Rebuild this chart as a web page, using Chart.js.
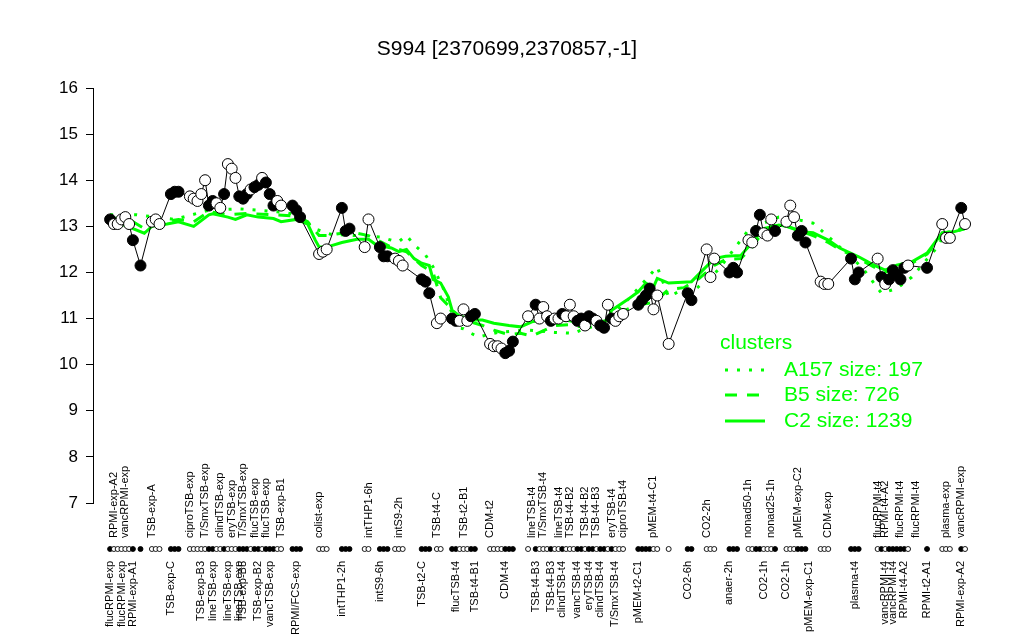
<!DOCTYPE html>
<html>
<head>
<meta charset="utf-8">
<title>S994</title>
<script src="https://cdn.jsdelivr.net/npm/chart.js@4/dist/chart.umd.min.js"></script>
<style>
  body { margin: 0; background: #fff; }
  #wrap { width: 1024px; height: 640px; }
</style>
</head>
<body>
<div id="wrap"><canvas id="myChart" width="1024" height="640"></canvas></div>
<script>
'use strict';
// Globals
var titleText = 'S994 [2370699,2370857,-1]';
var fontFamily = '"Liberation Sans", Arial, Helvetica, sans-serif';
var green = '#00ff00';

// sample slots along the x axis, expression value, filled (1) / open (0)
var slots = [0, 1, 2, 3, 4, 5, 6, 8, 11, 12, 13, 16, 17, 18, 21, 22, 23, 24, 25, 26,
  27, 28, 29, 30, 31, 32, 33, 34, 35, 36, 37, 38, 39, 40, 41, 42, 43, 44, 45, 48,
  49, 50, 55, 56, 57, 61, 62, 63, 67, 68, 71, 72, 73, 75, 76, 77, 82, 83, 84, 86,
  87, 90, 91, 92, 93, 94, 95, 96, 100, 101, 102, 103, 104, 105, 106, 110, 112, 113, 114, 115,
  116, 117, 118, 119, 120, 121, 122, 123, 124, 125, 126, 127, 128, 129, 130, 131, 132, 133, 134, 135,
  139, 140, 141, 142, 143, 144, 147, 152, 153, 157, 158, 159, 163, 164, 165, 168, 169, 170, 171, 172,
  173, 174, 175, 178, 179, 180, 181, 182, 183, 187, 188, 189, 195, 196, 197, 202, 203, 204, 205, 206,
  207, 208, 209, 210, 215, 219, 220, 221, 224, 225];
var expr = [13.15, 13.05, 13.05, 13.15, 13.2, 13.05, 12.7, 12.15, 13.1, 13.15, 13.05, 13.7, 13.75, 13.75, 13.65, 13.6, 13.55, 13.7, 14.0, 13.45,
  13.55, 13.5, 13.4, 13.7, 14.35, 14.25, 14.05, 13.65, 13.6, 13.7, 13.8, 13.85, 13.9, 14.05, 13.95, 13.7, 13.45, 13.55, 13.45, 13.45,
  13.35, 13.2, 12.4, 12.45, 12.5, 13.4, 12.9, 12.95, 12.55, 13.15, 12.55, 12.35, 12.35, 12.3, 12.25, 12.15, 11.85, 11.8, 11.55, 10.9,
  11.0, 11.0, 10.95, 10.95, 11.2, 10.95, 11.05, 11.1, 10.45, 10.4, 10.4, 10.35, 10.25, 10.3, 10.5, 11.05, 11.3, 11.0, 11.25, 11.05,
  10.95, 11.0, 11.0, 11.1, 11.05, 11.3, 11.05, 10.95, 11.0, 10.85, 11.05, 11.0, 10.95, 10.85, 10.8, 11.3, 11.0, 10.95, 11.05, 11.1,
  11.3, 11.4, 11.5, 11.65, 11.2, 11.5, 10.45, 11.55, 11.4, 12.5, 11.9, 12.3, 12.0, 12.1, 12.0, 12.7, 12.65, 12.9, 13.25, 12.85,
  12.8, 13.15, 12.9, 13.1, 13.45, 13.2, 12.8, 12.9, 12.65, 11.8, 11.75, 11.75, 12.3, 11.85, 12.0, 12.3, 11.9, 11.75, 11.85, 12.05,
  11.95, 11.85, 12.1, 12.15, 12.1, 13.05, 12.75, 12.75, 13.4, 13.05];
var filled = [1, 0, 0, 0, 0, 0, 1, 1, 0, 0, 0, 1, 1, 1, 0, 0, 0, 0, 0, 1,
  1, 0, 0, 1, 0, 0, 0, 1, 1, 1, 0, 1, 1, 0, 1, 1, 1, 0, 0, 1,
  1, 1, 0, 0, 0, 1, 1, 1, 0, 0, 1, 1, 1, 0, 0, 0, 1, 1, 1, 0,
  0, 1, 1, 0, 0, 0, 1, 1, 0, 0, 0, 0, 1, 1, 1, 0, 1, 0, 0, 0,
  1, 0, 0, 1, 0, 0, 0, 1, 1, 0, 1, 1, 0, 1, 1, 0, 1, 0, 0, 0,
  1, 1, 1, 1, 0, 0, 0, 1, 1, 0, 0, 0, 1, 1, 1, 0, 0, 1, 1, 0,
  0, 0, 1, 0, 0, 0, 1, 1, 1, 0, 0, 0, 1, 1, 1, 0, 1, 0, 1, 1,
  1, 1, 1, 0, 1, 0, 0, 0, 1, 0];

// axis labels, upper row and lower row
var topLabels = ['RPMI-exp-A2', 'vancRPMI-exp', 'TSB-exp-A', 'ciproTSB-exp', 'T/SmxTSB-exp', 'clindTSB-exp', 'eryTSB-exp',
  'T/SmxTSB-exp', 'flucTSB-exp', 'flucTSB-exp', 'TSB-exp-B1', 'colist-exp', 'intTHP1-6h', 'intS9-2h', 'TSB-t4-C',
  'TSB-t2-B1', 'CDM-t2', 'lineTSB-t4', 'T/SmxTSB-t4', 'lineTSB-t4', 'TSB-t4-B2', 'TSB-t4-B2', 'TSB-t4-B3', 'eryTSB-t4',
  'ciproTSB-t4', 'pMEM-t4-C1', 'CO2-2h', 'nonad50-1h', 'nonad25-1h', 'pMEM-exp-C2', 'CDM-exp', 'flucRPMI-t4',
  'RPMI-t4-A2', 'flucRPMI-t4', 'flucRPMI-t4', 'plasma-exp', 'vancRPMI-exp'];
var topLabelSlots = [1, 4, 11, 21, 25, 29, 32, 35, 38, 41, 45, 55, 68, 76, 86, 93, 100, 111, 114, 118, 121, 125, 128, 132,
  135, 143, 157, 168, 174, 181, 189, 202, 204, 208, 212, 220, 224];
var bottomLabels = ['flucRPMI-exp', 'flucRPMI-exp', 'RPMI-exp-A1', 'TSB-exp-C', 'TSB-exp-B3', 'lineTSB-exp', 'lineTSB-exp',
  'lineTSB-exp', 'TSB-exp-B5', 'TSB-exp-B2', 'vancTSB-exp', 'RPMI/FCS-exp', 'intTHP1-2h', 'intS9-6h', 'TSB-t2-C',
  'flucTSB-t4', 'TSB-t4-B1', 'CDM-t4', 'TSB-t4-B3', 'TSB-t4-B3', 'clindTSB-t4', 'vancTSB-t4', 'eryTSB-t4', 'clindTSB-t4',
  'T/SmxTSB-t4', 'pMEM-t2-C1', 'CO2-6h', 'anaer-2h', 'CO2-1h', 'CO2-1h', 'pMEM-exp-C1', 'plasma-t4', 'vancRPMI-t4',
  'vancRPMI-t4', 'RPMI-t4-A2', 'RPMI-t2-A1', 'RPMI-exp-A2'];
var bottomLabelSlots = [0, 3, 6, 16, 24, 27, 31, 34, 35, 39, 42, 49, 61, 71, 82, 91, 96, 104, 112, 116, 119, 123, 126, 129,
  133, 139, 152, 163, 172, 178, 184, 196, 204, 206, 209, 215, 224];

// cluster profiles
var clusterNames = ['A157 size: 197', 'B5 size: 726', 'C2 size: 1239'];
var a157Slots = [0, 7, 17, 26, 34, 39, 46, 51, 53, 58, 71, 74, 76, 78, 80, 83, 85, 88, 90, 91, 93, 95, 97, 102, 110, 117,
  122, 124, 130, 137, 144, 145, 147, 150, 154, 160, 168, 172, 176, 178, 185, 191, 198, 203, 207, 211, 217, 220, 224];
var a157Values = [13.25, 13.25, 13.15, 13.35, 13.38, 13.35, 13.3, 13.22, 12.97, 12.83, 12.77, 12.7, 12.67, 12.8, 12.6, 12.38,
  12.12, 11.6, 11.1, 10.8, 10.78, 10.68, 10.6, 10.7, 10.75, 10.7, 10.68, 10.75, 10.9, 11.47, 12.12, 11.9, 11.47, 11.6,
  11.63, 12.05, 12.92, 13.07, 13.2, 13.2, 13.07, 12.63, 12.1, 11.55, 11.65, 11.9, 12.48, 12.86, 12.95];
var b5Slots = [0, 6, 9, 11, 18, 22, 26, 31, 36, 43, 49, 52, 55, 57, 61, 65, 68, 74, 78, 82, 85, 87, 90, 92, 98, 101, 105,
  108, 111, 117, 121, 124, 129, 132, 136, 139, 143, 147, 151, 155, 159, 162, 166, 169, 172, 176, 180, 185, 189, 192,
  197, 201, 204, 207, 211, 215, 219, 222, 225];
var b5Values = [13.2, 13.1, 12.95, 13.05, 13.15, 13.1, 13.32, 13.25, 13.28, 13.25, 13.22, 13.1, 12.8, 12.8, 12.85, 12.85, 12.8,
  12.55, 12.45, 12.15, 12.0, 11.45, 11.2, 11.0, 10.85, 10.75, 10.65, 10.68, 10.62, 10.85, 10.87, 10.82, 10.85, 11.05,
  11.2, 11.3, 11.35, 11.63, 11.67, 11.87, 12.15, 12.28, 12.3, 12.55, 12.9, 13.07, 12.95, 12.8, 12.65, 12.5, 12.3, 12.12,
  12.0, 12.1, 12.2, 12.4, 12.8, 12.88, 12.95];
var c2Slots = [0, 6, 9, 11, 15, 18, 22, 26, 27, 31, 33, 36, 39, 43, 45, 49, 52, 54, 55, 57, 61, 65, 68, 70, 74, 76, 78, 80,
  82, 84, 85, 87, 89, 90, 92, 96, 98, 101, 105, 108, 111, 117, 121, 124, 129, 131, 132, 136, 139, 141, 143, 144, 147,
  153, 156, 159, 162, 166, 169, 172, 176, 178, 182, 185, 189, 192, 197, 201, 204, 207, 211, 215, 219, 222, 225];
var c2Values = [13.15, 12.95, 12.85, 13.0, 13.05, 13.1, 13.0, 13.25, 13.27, 13.2, 13.15, 13.25, 13.2, 13.17, 13.1, 13.15,
  13.05, 12.7, 12.55, 12.55, 12.65, 12.72, 12.72, 12.6, 12.53, 12.45, 12.5, 12.3, 12.2, 12.15, 11.85, 11.77, 11.47, 11.18,
  11.05, 10.97, 10.97, 10.9, 10.85, 10.82, 10.93, 11.0, 10.95, 10.9, 10.92, 10.97, 11.18, 11.4, 11.58, 11.77, 11.68, 11.87,
  11.77, 11.8, 12.05, 12.3, 12.35, 12.37, 12.65, 12.95, 13.03, 13.0, 12.88, 12.86, 12.7, 12.53, 12.34, 12.16, 12.05, 12.16,
  12.23, 12.42, 12.86, 12.88, 12.95];

var toPoints = function (xs, ys) {
  var pts = [];
  for (var i = 0; i < xs.length; i++) {
    pts.push({ x: xs[i], y: ys[i] });
  }
  return pts;
};

var pointFill = filled.map(function (f) { return f ? '#000000' : '#ffffff'; });

// title, sample strip, labels and legend
var decorPlugin = {
  id: 'decor',
  afterDraw: function (chart) {
    var ctx = chart.ctx;
    var xs = chart.scales.x;
    ctx.save();
    ctx.fillStyle = '#000';
    ctx.font = '21px ' + fontFamily;
    ctx.textAlign = 'center';
    ctx.textBaseline = 'alphabetic';
    ctx.fillText(titleText, 507, 55);

    // strip of samples
    var stripY = 549;
    ctx.lineWidth = 0.9;
    for (var i = 0; i < slots.length; i++) {
      var px = xs.getPixelForValue(slots[i]);
      ctx.beginPath();
      ctx.arc(px, stripY, 2.5, 0, Math.PI * 2);
      ctx.fillStyle = filled[i] ? '#000' : '#fff';
      ctx.fill();
      ctx.strokeStyle = '#000';
      ctx.stroke();
    }

    ctx.fillStyle = '#000';
    ctx.font = '11px ' + fontFamily;
    ctx.textBaseline = 'middle';
    for (var t = 0; t < topLabels.length; t++) {
      ctx.save();
      ctx.translate(xs.getPixelForValue(topLabelSlots[t]), 538);
      ctx.rotate(-Math.PI / 2);
      ctx.textAlign = 'left';
      ctx.fillText(topLabels[t], 0, 0);
      ctx.restore();
    }
    for (var b = 0; b < bottomLabels.length; b++) {
      ctx.save();
      ctx.translate(xs.getPixelForValue(bottomLabelSlots[b]), 561);
      ctx.rotate(-Math.PI / 2);
      ctx.textAlign = 'right';
      ctx.fillText(bottomLabels[b], 0, 0);
      ctx.restore();
    }

    // legend
    ctx.fillStyle = green;
    ctx.strokeStyle = green;
    ctx.font = '21px ' + fontFamily;
    ctx.textAlign = 'left';
    ctx.textBaseline = 'middle';
    ctx.fillText('clusters', 720, 343);
    var dashes = [[3, 9], [12, 10], []];
    var rows = [370, 395, 421];
    ctx.lineWidth = 3;
    for (var k = 0; k < clusterNames.length; k++) {
      ctx.setLineDash(dashes[k]);
      ctx.beginPath();
      ctx.moveTo(725, rows[k]);
      ctx.lineTo(765, rows[k]);
      ctx.stroke();
      ctx.setLineDash([]);
      ctx.fillText(clusterNames[k], 784, rows[k]);
    }
    ctx.restore();
  }
};

var ctx = document.getElementById('myChart').getContext('2d');
var chart = new Chart(ctx, {
  type: 'line',
  data: {
    datasets: [{
      label: 'S994',
      data: toPoints(slots, expr),
      borderColor: '#000',
      borderWidth: 1,
      pointRadius: 5.5,
      pointBorderWidth: 1,
      pointBorderColor: '#000',
      pointBackgroundColor: pointFill,
      order: 0
    }, {
      label: 'A157',
      data: toPoints(a157Slots, a157Values),
      borderColor: green,
      borderWidth: 3,
      borderDash: [3, 9],
      pointRadius: 0,
      order: 1
    }, {
      label: 'B5',
      data: toPoints(b5Slots, b5Values),
      borderColor: green,
      borderWidth: 3,
      borderDash: [12, 10],
      pointRadius: 0,
      order: 1
    }, {
      label: 'C2',
      data: toPoints(c2Slots, c2Values),
      borderColor: green,
      borderWidth: 3,
      pointRadius: 0,
      order: 1
    }]
  },
  options: {
    responsive: false,
    animation: false,
    devicePixelRatio: 1,
    layout: { padding: { left: 0, right: 24, top: 88, bottom: 137 } },
    plugins: {
      legend: { display: false },
      title: { display: false },
      tooltip: { enabled: false }
    },
    elements: { line: { tension: 0 } },
    scales: {
      x: {
        type: 'linear',
        display: false,
        min: -4.5,
        max: 234.2
      },
      y: {
        min: 7,
        max: 16,
        afterFit: function (scale) { scale.width = 93; },
        ticks: {
          stepSize: 1,
          color: '#000',
          padding: 8,
          font: { size: 17, family: fontFamily }
        },
        grid: {
          drawOnChartArea: false,
          tickLength: 7,
          color: '#000'
        },
        border: { color: '#000', width: 1 }
      }
    }
  },
  plugins: [decorPlugin]
});
</script>
</body>
</html>
